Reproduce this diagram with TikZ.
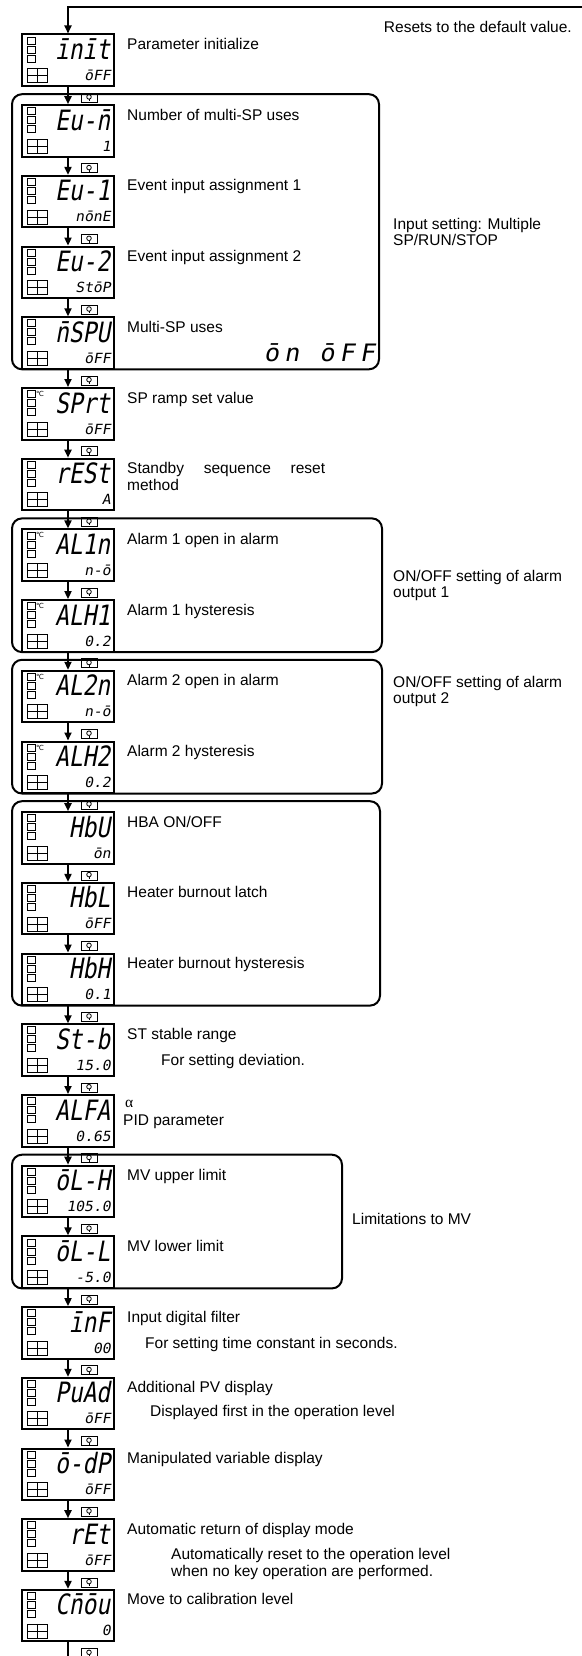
\documentclass[tikz,border=0pt]{standalone}
\usepackage{fontspec}
\setmainfont{Liberation Sans}
\newfontfamily\segfont[FakeSlant=0.18,FakeStretch=0.82]{DejaVu Sans Mono}
\newfontfamily\valfont[FakeSlant=0.18,FakeStretch=1.05]{DejaVu Sans Mono}
\newfontfamily\celfont{DejaVu Sans}
\newfontfamily\alphafont{Liberation Serif}
\usetikzlibrary{arrows.meta}
\tikzset{
 dbox/.style={draw, line width=2pt, minimum width=92pt, minimum height=51.5pt, inner sep=0pt},
 seg/.style={font=\segfont\fontsize{28}{28}\selectfont, inner sep=0pt, anchor=base east},
 segmid/.style={font=\valfont\fontsize{24}{24}\selectfont, inner sep=0pt, anchor=base east},
 val/.style={font=\valfont\fontsize{14}{14}\selectfont, inner sep=0pt, anchor=base east},
 cel/.style={font=\celfont\fontsize{7}{7}\selectfont, inner sep=0pt},
 cell/.style={line width=0.8pt},
 arr/.style={line width=1.8pt, -{Triangle[length=8pt,width=7pt]}},
 grp/.style={line width=2pt, rounded corners=10pt},
 lbl/.style={font=\fontsize{15.5}{17}\selectfont, inner sep=0pt, anchor=base west},
 note/.style={font=\fontsize{15.5}{16}\selectfont, inner sep=0pt, anchor=west, align=left},
}
\newcommand\dispbox[5]{%
 \pgfmathsetmacro\tp{34.5+70.7*#2}%
 \node[dbox] (#1) at (68,{\tp+25.75}) {};
 \node[seg] (#1m) at (110.5,{\tp+25}) {#3};
 \node[val] (#1v) at (111,{\tp+46}) {#4};
 \draw[cell] (27,{\tp+2.5}) rectangle (35,{\tp+9.5});
 \draw[cell] (27,{\tp+11.5}) rectangle (35,{\tp+18.5});
 \draw[cell] (27,{\tp+20.5}) rectangle (35,{\tp+27.5});
 \draw[cell] (27,{\tp+34}) rectangle (47,{\tp+48});
 \draw[cell] (37,{\tp+34}) -- (37,{\tp+48});
 \draw[cell] (27,{\tp+41}) -- (47,{\tp+41});
 \ifnum#5=1 \node[cel] (#1c) at (40,{\tp+6}) {℃};\fi
}
\newcommand\keyicon[1]{%
 \pgfmathsetmacro\kt{34.5+70.7*#1}%
 \draw[line width=0.8pt] (81,{\kt-12}) rectangle (97,{\kt-3});
 \draw[line width=0.8pt] (89,{\kt-8.3}) circle (2.3pt);
 \draw[line width=0.8pt] (89,{\kt-6}) -- (89,{\kt-4});
}
\newcommand\lab[2]{%
 \node[lbl] (lbl#1) at (127,{34.5+70.7*#1+15}) {#2};
}
\begin{document}
\begin{tikzpicture}[x=1pt,y=-1pt]
\useasboundingbox (0,0) rectangle (581,1656);
% displays
\dispbox{b0}{0}{īnīt}{ōFF}{0}
\dispbox{b1}{1}{Eu-n̄}{1}{0}
\dispbox{b2}{2}{Eu-1}{nōnE}{0}
\dispbox{b3}{3}{Eu-2}{StōP}{0}
\dispbox{b4}{4}{n̄SPU}{ōFF}{0}
\dispbox{b5}{5}{SPrt}{ōFF}{1}
\dispbox{b6}{6}{rESt}{A}{0}
\dispbox{b7}{7}{AL1n}{n-ō}{1}
\dispbox{b8}{8}{ALH1}{0.2}{1}
\dispbox{b9}{9}{AL2n}{n-ō}{1}
\dispbox{b10}{10}{ALH2}{0.2}{1}
\dispbox{b11}{11}{HbU}{ōn}{0}
\dispbox{b12}{12}{HbL}{ōFF}{0}
\dispbox{b13}{13}{HbH}{0.1}{0}
\dispbox{b14}{14}{St-b}{15.0}{0}
\dispbox{b15}{15}{ALFA}{0.65}{0}
\dispbox{b16}{16}{ōL-H}{105.0}{0}
\dispbox{b17}{17}{ōL-L}{-5.0}{0}
\dispbox{b18}{18}{īnF}{00}{0}
\dispbox{b19}{19}{PuAd}{ōFF}{0}
\dispbox{b20}{20}{ō-dP}{ōFF}{0}
\dispbox{b21}{21}{rEt}{ōFF}{0}
\dispbox{b22}{22}{Cn̄ōu}{0}{0}
% key icons
\foreach \k in {1,...,23} {\keyicon{\k}}
% arrows
\foreach \i in {0,...,21} {\pgfmathtruncatemacro\j{\i+1}\draw[arr] (b\i.south) -- (b\j.north);}
\coordinate (tr) at (590,7);
\coordinate (tl) at (68,7);
\draw[arr] (tr) -- (tl) -- (b0.north);
\coordinate (endpt) at (68,1662);
\draw[line width=1.8pt] (b22.south) -- (endpt);
% groups
\draw[grp] (12,94.2) rectangle (379,369.3);
\draw[grp] (12,518.4) rectangle (382,652.1);
\draw[grp] (12,659.8) rectangle (382,793.5);
\draw[grp] (12,801.2) rectangle (380,1005.6);
\draw[grp] (12,1154.7) rectangle (342,1288.4);
% labels
\lab{0}{Parameter initialize}
\lab{1}{Number of multi-SP uses}
\lab{2}{Event input assignment 1}
\lab{3}{Event input assignment 2}
\lab{4}{Multi-SP uses}
\lab{5}{SP ramp set value}
\node[lbl, anchor=north west, text width=198pt, align=justify] (lbl6) at (127,462.5) {Standby sequence reset method};
\lab{7}{Alarm 1 open in alarm}
\lab{8}{Alarm 1 hysteresis}
\lab{9}{Alarm 2 open in alarm}
\lab{10}{Alarm 2 hysteresis}
\lab{11}{HBA ON/OFF}
\lab{12}{Heater burnout latch}
\lab{13}{Heater burnout hysteresis}
\lab{14}{ST stable range}
\node[lbl, font=\alphafont\fontsize{15.5}{17}\selectfont] (lbl15a) at (125,1107) {α};
\node[lbl] (lbl15) at (123,1125) {PID parameter};
\lab{16}{MV upper limit}
\lab{17}{MV lower limit}
\lab{18}{Input digital filter}
\lab{19}{Additional PV display}
\lab{20}{Manipulated variable display}
\lab{21}{Automatic return of display mode}
\lab{22}{Move to calibration level}
% sub notes
\node[segmid] (onoff) at (375,361) {ō\hspace{5pt}n\hspace{20pt}ō\hspace{5pt}F\hspace{5pt}F};
\node[lbl] (sub14) at (161,1065.3) {For setting deviation.};
\node[lbl] (sub18) at (145,1348) {For setting time constant in seconds.};
\node[lbl] (sub19) at (150,1416) {Displayed first in the operation level};
\node[lbl, anchor=north west, align=left] (sub21) at (171,1548) {Automatically reset to the operation level\\when no key operation are performed.};
% group notes
\node[lbl, anchor=base east] (reset) at (572,33) {Resets to the default value.};
\node[note] (g1n) at (393,231.7) {Input setting: Multiple\\SP/RUN/STOP};
\node[note] (g2n) at (393,585) {ON/OFF setting of alarm\\output 1};
\node[note] (g3n) at (393,691) {ON/OFF setting of alarm\\output 2};
\node[note] (g5n) at (352,1219) {Limitations to MV};
\end{tikzpicture}
\end{document}
